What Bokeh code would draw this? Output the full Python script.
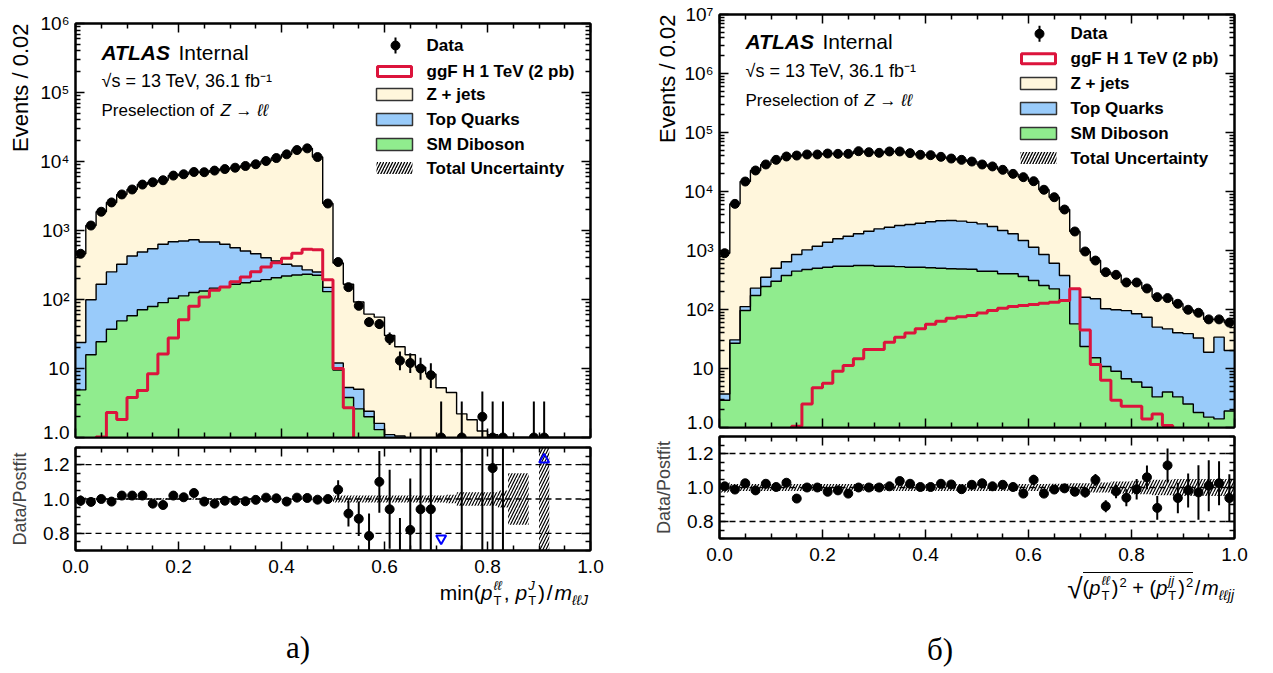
import numpy as np
from bokeh.plotting import figure
from bokeh.models import Label, Range1d, FixedTicker, LinearAxis, LogAxis, CustomJSTickFormatter, Span, Title, Div
from bokeh.layouts import row, column
from bokeh.embed import file_html
from bokeh.resources import INLINE

nan = float("nan")

# ---------------- data: bins of width 0.02 on [0, 1] ----------------
bin_edges = [round(0.02 * k, 2) for k in range(51)]

# panel a) : min(pT_ll, pT_J)/m_llJ
data_a = [460, 1180, 1870, 2550, 3330, 3930, 4630, 5000, 5350, 6250, 6530, 7050, 7000, 7380, 7770, 8130,
          8610, 9120, 10160, 11220, 12700, 14660, 15500, 11600, 2460, 349, 151, 81, 47, 44, 27, 13, 12, 10, 8,
          1, 0, 1, 0, 2, 1, 1, 0, 0, 1, 1, 0, 0, 0, 0]
zjets_a = [436, 1081, 1704, 2299, 3006, 3503, 4142, 4455, 4719, 5563, 5827, 6315, 6320, 6700, 7139, 7567,
           8106, 8660, 9757, 10859, 12376, 14354, 15231, 11350, 2310, 326, 161, 87, 59, 54, 29, 19.6, 14.9,
           9.8, 7.9, 5.0, 4.3, 2.1, 1.76, 1.24, 1.1, 0.9, 0.7, 0.5, 0.3, 0.2, 0.15, 0.1, 0.08, 0.05]
top_a = [18.9, 83.2, 141.6, 214, 275, 369, 417, 466, 541, 583, 590, 609, 547, 534, 479, 397, 329, 276, 209,
         154, 105, 79, 37, 25, 20, 2.5, 1.5, 2.4, 0.4, 0.3, 0.3, 0.45, 0.5, 0.3, 0.2, 0.1, 0.1, 0.05, 0.05,
         0, 0, 0, 0, 0, 0, 0, 0, 0, 0, 0]
diboson_a = [4.9, 15.8, 24.4, 37, 49, 58, 71, 79, 90, 104, 113, 126, 133, 146, 152, 166, 175, 184, 194, 207,
             219, 227, 232, 225, 130, 9.5, 3.8, 2.6, 2.0, 1.3, 0.8, 0.6, 0.4, 0.3, 0.2, 0.15, 0.1, 0.05, 0,
             0, 0, 0, 0, 0, 0, 0, 0, 0, 0, 0]
ggf_a = [0, 0, 1.02, 2.3, 1.82, 3.8, 4.8, 8.4, 16.2, 27.6, 50.7, 80, 109, 136, 152, 181, 212, 253, 296, 341,
         395, 467, 533, 525, 194, 10, 2.7, 0, 0, 0, 0, 0, 0, 0, 0, 0, 0, 0, 0, 0, 0, 0, 0, 0, 0, 0, 0, 0, 0, 0]
ratio_a = [0.99, 0.983, 1.0, 0.985, 1.02, 1.02, 1.02, 0.973, 0.965, 1.02, 1.01, 1.035, 0.985, 0.973, 0.99,
           0.99, 0.987, 0.995, 1.008, 1.004, 0.985, 1.008, 1.006, 0.996, 1.0, 1.054, 0.915, 0.885, 0.785, 1.10,
           0.94, 0.65, 0.82, 0.94, 0.94, nan, nan, 0.45, nan, 1.5, 1.18, 0.6, nan, nan, nan, nan, nan, nan,
           nan, nan]
ratio_err_a = [0.03, 0.02, 0.02, 0.02, 0.015, 0.015, 0.015, 0.015, 0.015, 0.015, 0.015, 0.015, 0.015, 0.015,
               0.015, 0.015, 0.012, 0.012, 0.012, 0.012, 0.012, 0.01, 0.01, 0.01, 0.02, 0.055, 0.075, 0.1,
               0.13, 0.18, 0.23, 0.24, 0.3, 0.45, 0.5, nan, nan, 1.0, nan, 1.0, 1.0, 1.0, nan, nan, nan, nan,
               nan, nan, nan, nan]
unc_a = [0.01, 0.006, 0.005, 0.005, 0.004, 0.004, 0.004, 0.004, 0.004, 0.004, 0.004, 0.004, 0.004, 0.004,
         0.004, 0.004, 0.004, 0.004, 0.004, 0.004, 0.004, 0.004, 0.004, 0.004, 0.006, 0.02, 0.02, 0.02, 0.02,
         0.02, 0.02, 0.02, 0.02, 0.02, 0.02, 0.02, 0.025, 0.04, 0.04, 0.04, 0.04, 0.05, 0.15, 0.15, nan, 0.35,
         nan, nan, nan, nan]
arrow_up_a = [45]   # bin index of off-scale (above) ratio point
arrow_dn_a = [35]   # bin index of off-scale (below) ratio point

# panel b) : sqrt(pT_ll^2 + pT_jj^2)/m_lljj
data_b = [900, 6170, 14760, 22700, 28700, 34400, 39200, 40700, 42400, 42400, 44000, 43500, 43500, 48200,
          46300, 45200, 47700, 47700, 44700, 41900, 41300, 38700, 36200, 34400, 32200, 28700, 26600, 23300,
          19900, 17500, 14950, 10700, 8000, 4950, 2100, 962, 676, 429, 387, 287, 287, 227, 162, 156, 125, 99,
          88, 68, 68, 60]
zjets_b = [896, 6139, 14648, 22470, 28347, 33899, 38557, 39845, 41376, 41217, 42617, 41922, 41751, 46281,
           44175, 42870, 45220, 45050, 41943, 39000, 38235, 35513, 32975, 31260, 29190, 25870, 24050, 21120,
           17980, 16024, 13812, 9845, 7391, 4573, 1876, 800, 524, 326, 288, 191, 202, 153, 112, 109, 85, 60,
           55, 49, 34, 40]
top_b = [0.8, 3.8, 16, 57, 108, 199, 266, 408, 548, 682, 862, 1036, 1207, 1362, 1568, 1788, 1938, 2118, 2236,
         2379, 2555, 2686, 2735, 2664, 2521, 2384, 2104, 1777, 1517, 1114, 828, 600, 385, 235, 167, 138, 137,
         92, 90, 89, 79, 69, 47, 43, 37, 36.5, 31, 17.4, 32.6, 18.3]
diboson_b = [2.9, 26.8, 96, 173, 245, 302, 377, 447, 476, 501, 521, 542, 542, 557, 557, 542, 542, 532, 521,
             521, 510, 501, 490, 485, 480, 446, 446, 403, 403, 362, 310, 255, 224, 142, 57, 23.6, 15.2, 10.8,
             9.0, 6.7, 5.9, 4.8, 3.3, 4.0, 3.3, 2.5, 1.8, 1.5, 1.4, 1.9]
ggf_b = [0, 0, 0, 0, 0, 0, 0, 1.05, 2.5, 4.7, 5.6, 9.0, 11.2, 14.6, 21, 21, 27.9, 34, 40, 47, 56, 63, 71, 75,
         79, 87, 96, 105, 112, 117, 122, 128, 133, 142, 224, 45, 11.7, 6.3, 2.9, 2.3, 2.3, 1.4, 1.7, 1.08, 0, 0,
         0, 0, 0, 0]
ratio_b = [1.007, 0.988, 1.025, 0.983, 1.022, 1.003, 1.028, 0.935, 1.0, 1.0, 0.975, 0.983, 0.964, 1.0, 1.0,
           1.0, 1.007, 1.038, 1.022, 1.003, 1.003, 1.022, 1.018, 0.99, 1.016, 1.025, 1.007, 1.016, 1.003, 0.964,
           1.045, 0.964, 0.988, 0.995, 0.975, 0.971, 1.045, 0.89, 0.977, 0.94, 0.99, 1.06, 0.88, 1.13, 0.938,
           0.983, 0.971, 1.01, 1.025, 0.938]
ratio_err_b = [0.015, 0.01, 0.008, 0.006, 0.006, 0.005, 0.005, 0.005, 0.005, 0.005, 0.005, 0.005, 0.005,
               0.005, 0.005, 0.005, 0.005, 0.005, 0.005, 0.005, 0.005, 0.005, 0.005, 0.006, 0.006, 0.006, 0.007,
               0.007, 0.008, 0.02, 0.03, 0.02, 0.02, 0.025, 0.025, 0.03, 0.035, 0.035, 0.04, 0.05, 0.06, 0.07,
               0.07, 0.1, 0.09, 0.1, 0.16, 0.15, 0.13, 0.14]
unc_b = [0.03, 0.02, 0.02, 0.02, 0.02, 0.02, 0.02, 0.02, 0.02, 0.02, 0.02, 0.02, 0.02, 0.02, 0.02, 0.02, 0.02,
         0.02, 0.02, 0.02, 0.02, 0.02, 0.02, 0.02, 0.02, 0.02, 0.02, 0.02, 0.02, 0.02, 0.02, 0.02, 0.022, 0.022,
         0.025, 0.025, 0.03, 0.03, 0.035, 0.035, 0.04, 0.04, 0.045, 0.045, 0.05, 0.05, 0.05, 0.05, 0.05, 0.05]

legend_labels = ["Data", "ggF H 1 TeV (2 pb)", "Z + jets", "Top Quarks", "SM Diboson", "Total Uncertainty"]
x_ticks = [0.0, 0.2, 0.4, 0.6, 0.8, 1.0]
x_minor = [0.05, 0.1, 0.15, 0.25, 0.3, 0.35, 0.45, 0.5, 0.55, 0.65, 0.7, 0.75, 0.85, 0.9, 0.95]
r_ticks = [0.8, 1.0, 1.2]
r_minor = [0.7, 0.75, 0.85, 0.9, 0.95, 1.05, 1.1, 1.15, 1.25, 1.3]

# ---------------- style ----------------
FONT = "Liberation Sans"
ZJ_COL = "#FFF6DC"
TOP_COL = "#99CBFA"
DIB_COL = "#90EC8E"
SIG_COL = "#DC143C"
FW = 515
FLOOR = 1e-3


def add_label(p, x, y, text, fs, style="normal", align="left", baseline="middle", font=FONT):
    p.add_layout(Label(x=x, y=y, text=text, text_font=font, text_font_size=f"{fs}px",
                       text_font_style=style, text_align=align, text_baseline=baseline,
                       text_color="black"))


def style_axis(ax, major, minor, labels, fmt, maj_len, min_len):
    ax.ticker = FixedTicker(ticks=major, minor_ticks=minor)
    ax.major_tick_in = maj_len
    ax.major_tick_out = 0
    ax.minor_tick_in = min_len
    ax.minor_tick_out = 0
    ax.axis_line_width = 2
    ax.major_tick_line_width = 1.5
    ax.minor_tick_line_width = 1.5
    if labels:
        ax.formatter = CustomJSTickFormatter(code=fmt)
        ax.major_label_text_font = FONT
        ax.major_label_text_font_size = "19px"
        ax.major_label_text_color = "black"
    else:
        ax.formatter = CustomJSTickFormatter(code="return '';")
        ax.major_label_text_font_size = "0px"
        ax.major_label_standoff = 0


LOG_FMT = """
const e = Math.round(Math.log10(tick));
if (e === 0) { return "1.0"; }
if (e === 1) { return "10"; }
const s = {2: "\u00b2", 3: "\u00b3", 4: "\u2074", 5: "\u2075", 6: "\u2076", 7: "\u2077"};
return "10" + s[e];
"""
FIX1 = "return tick.toFixed(1);"


def base_fig(fh, y_range, log, mbl, mbt, mbb, mbr):
    kw = dict(frame_width=FW, frame_height=fh, x_range=Range1d(0, 1), y_range=y_range,
              output_backend="svg", toolbar_location=None, min_border_left=mbl, min_border_right=mbr,
              min_border_top=mbt, min_border_bottom=mbb)
    if log:
        kw["y_axis_type"] = "log"
    p = figure(**kw)
    p.xgrid.visible = False
    p.ygrid.visible = False
    p.outline_line_color = "black"
    p.outline_line_width = 2
    p.background_fill_color = "white"
    p.border_fill_color = "white"
    return p


def make_top(data, zj, top, dib, sig, fh, ndec, mbl, mbt, mbr, rows, trow, ev_standoff):
    fx = lambda px: px / FW
    fy = lambda py: 10 ** (ndec * (1.0 - py / fh))
    p = base_fig(fh, Range1d(1, 10 ** ndec), True, mbl, mbt, 5, mbr)
    y_major = [10.0 ** k for k in range(ndec + 1)]
    y_minor = [m * 10.0 ** k for k in range(ndec) for m in range(2, 10)]
    style_axis(p.xaxis[0], x_ticks, x_minor, False, None, 9, 5)
    style_axis(p.yaxis[0], y_major, y_minor, True, LOG_FMT, 9, 5)
    p.yaxis[0].major_label_standoff = 6
    ax_t = LinearAxis()
    style_axis(ax_t, x_ticks, x_minor, False, None, 9, 5)
    p.add_layout(ax_t, "above")
    ax_r = LogAxis()
    style_axis(ax_r, y_major, y_minor, False, None, 9, 5)
    p.add_layout(ax_r, "right")
    p.add_layout(Title(text="Events / 0.02", align="right", text_font=FONT, text_font_size="22px",
                       text_font_style="normal", text_color="black", standoff=ev_standoff), "left")

    edges = bin_edges
    c1 = np.array(dib, float)
    c2 = c1 + np.array(top, float)
    c3 = c2 + np.array(zj, float)
    for c, col in ((c3, ZJ_COL), (c2, TOP_COL), (c1, DIB_COL)):
        yy = list(np.maximum(c, FLOOR)) + [max(c[-1], FLOOR)]
        p.varea_step(x=edges, y1=[FLOOR] * len(edges), y2=yy, step_mode="after", fill_color=col)
    for c in (c3, c2, c1):
        yy = list(np.maximum(c, FLOOR)) + [max(c[-1], FLOOR)]
        p.step(x=edges, y=yy, mode="after", line_color="black", line_width=1.4)
    s = np.array(sig, float)
    yy = list(np.maximum(s, FLOOR)) + [max(s[-1], FLOOR)]
    p.step(x=edges, y=yy, mode="after", line_color=SIG_COL, line_width=3)

    n = np.array(data, float)
    cen = (np.array(edges[:-1]) + np.array(edges[1:])) / 2
    m = n > 0
    nn = n[m]
    hi = nn + np.sqrt(nn + 0.75) + 1.0
    lo = nn * (1 - 1 / (9 * nn) - 1 / (3 * np.sqrt(nn))) ** 3
    lo = np.maximum(lo, FLOOR)
    p.segment(x0=cen[m], y0=lo, x1=cen[m], y1=hi, line_color="black", line_width=2)
    p.scatter(x=cen[m], y=nn, size=9, color="black")

    # legend
    bx0, bx1, mkx, tx = 301, 337, 320, 351
    r = rows
    p.segment(x0=[fx(mkx)], y0=[fy(r[0] + 8)], x1=[fx(mkx)], y1=[fy(r[0] - 8)], line_color="black",
              line_width=2)
    p.scatter(x=[fx(mkx)], y=[fy(r[0])], size=9, color="black")
    p.quad(left=[fx(bx0 + 1)], right=[fx(bx1 - 1)], top=[fy(r[1] - 5)], bottom=[fy(r[1] + 5)],
           fill_color="white", line_color=SIG_COL, line_width=3)
    for k, col in ((2, ZJ_COL), (3, TOP_COL), (4, DIB_COL)):
        p.quad(left=[fx(bx0)], right=[fx(bx1)], top=[fy(r[k] - 6)], bottom=[fy(r[k] + 6)],
               fill_color=col, line_color="#333333", line_width=1.5)
    p.quad(left=[fx(bx0)], right=[fx(bx1)], top=[fy(r[5] - 6)], bottom=[fy(r[5] + 6)],
           fill_alpha=0, line_alpha=0, hatch_pattern="/", hatch_color="black", hatch_scale=6,
           hatch_weight=1.3)
    for k, t in enumerate(legend_labels):
        add_label(p, fx(tx), fy(r[k]), t, 17, "bold")

    # ATLAS label block
    tx0 = 26
    add_label(p, fx(tx0), fy(trow[0]), "ATLAS", 21, "bold italic")
    add_label(p, fx(tx0 + 77), fy(trow[0]), "Internal", 21)
    add_label(p, fx(tx0), fy(trow[1]), "\u221As = 13 TeV,  36.1 fb\u207b\u00b9", 18)
    add_label(p, fx(tx0), fy(trow[2]), "Preselection of", 17)
    add_label(p, fx(tx0 + 119), fy(trow[2]), "Z \u2192 \u2113\u2113", 17, "italic")
    return p


def make_ratio(ratio, err, unc, ups, dns, fh, mbl, mbt, mbb, mbr):
    fy = lambda py: 1.3 - 0.6 * py / fh
    p = base_fig(fh, Range1d(0.7, 1.3), False, mbl, mbt, mbb, mbr)
    style_axis(p.xaxis[0], x_ticks, x_minor, True, FIX1, 9, 5)
    p.xaxis[0].major_label_standoff = 9
    style_axis(p.yaxis[0], r_ticks, r_minor, True, FIX1, 9, 5)
    p.yaxis[0].major_label_standoff = 6
    p.yaxis[0].axis_label = "Data/Postfit"
    p.yaxis[0].axis_label_text_font = FONT
    p.yaxis[0].axis_label_text_font_size = "18px"
    p.yaxis[0].axis_label_text_font_style = "normal"
    p.yaxis[0].axis_label_standoff = 10
    ax_t = LinearAxis()
    style_axis(ax_t, x_ticks, x_minor, False, None, 9, 5)
    p.add_layout(ax_t, "above")
    ax_r = LinearAxis()
    style_axis(ax_r, r_ticks, r_minor, False, None, 9, 5)
    p.add_layout(ax_r, "right")

    for v in r_ticks:
        p.add_layout(Span(location=v, dimension="width", line_color="black", line_width=1.3,
                          line_dash="6 4"))
    edges = np.array(bin_edges)
    cen = (edges[:-1] + edges[1:]) / 2
    u = np.array(unc, float)
    mu = ~np.isnan(u)
    p.quad(left=edges[:-1][mu], right=edges[1:][mu], bottom=1 - u[mu], top=1 + u[mu], fill_alpha=0,
           line_alpha=0, hatch_pattern="/", hatch_color="black", hatch_scale=6, hatch_weight=1.2)
    rv = np.array(ratio, float)
    ev = np.array(err, float)
    me = ~np.isnan(rv) & ~np.isnan(ev)
    p.segment(x0=cen[me], y0=rv[me] - ev[me], x1=cen[me], y1=rv[me] + ev[me], line_color="black",
              line_width=2)
    mr = ~np.isnan(rv)
    p.scatter(x=cen[mr], y=rv[mr], size=9, color="black")
    if ups:
        p.scatter(x=[cen[i] for i in ups], y=[fy(12)] * len(ups), marker="triangle", size=10,
                  fill_alpha=0, line_color="blue", line_width=2)
    if dns:
        p.scatter(x=[cen[i] for i in dns], y=[fy(fh - 12)] * len(dns), marker="inverted_triangle", size=10,
                  fill_alpha=0, line_color="blue", line_width=2)
    return p


def stack(sup, sub):
    return ('<span style="display:inline-block;vertical-align:-5px;font-size:13px;line-height:15px;'
            'text-align:left;margin-left:1px;margin-right:2px;"><i>' + sup + '</i><br>' + sub + '</span>')


SANS = "font-family:'Liberation Sans',Arial,sans-serif;color:black;"
SERIF = "font-family:'Liberation Serif','Times New Roman',serif;color:black;"

title_a_html = ('min(<i>p</i>' + stack('\u2113\u2113', 'T') + ', <i>p</i>' + stack('J', 'T') +
                ')&#8202;/&#8202;<i>m</i><span style="font-size:14px;vertical-align:-5px;"><i>\u2113\u2113J</i></span>')
title_b_html = ('<span style="font-size:28px;vertical-align:-3px;">\u221A</span>'
                '<span style="border-top:1.5px solid black;padding-top:4px;">(<i>p</i>' + stack('\u2113\u2113', 'T') +
                ')<span style="font-size:13px;vertical-align:8px;margin-left:1px;">2</span> + (<i>p</i>' +
                stack('jj', 'T') +
                ')<span style="font-size:13px;vertical-align:8px;margin-left:1px;">2</span></span>&#8202;/&#8202;<i>m</i>'
                '<span style="font-size:14px;vertical-align:-5px;"><i>\u2113\u2113jj</i></span>')


def bottom_div(width, height, title_html, right, t_top, fs, caption, cap_left, cap_top):
    html = ('<div style="position:relative;width:%dpx;height:%dpx;%s">' % (width, height, SANS) +
            '<div style="position:absolute;right:%dpx;top:%dpx;font-size:%dpx;line-height:24px;'
            'white-space:nowrap;">%s</div>' % (right, t_top, fs, title_html) +
            '<div style="position:absolute;left:%dpx;width:60px;text-align:center;top:%dpx;%s'
            'font-size:31px;line-height:36px;">%s</div></div>' % (cap_left - 30, cap_top, SERIF, caption))
    return Div(text=html, width=width, height=height, margin=(0, 0, 0, 0))


top_a_fig = make_top(data_a, zjets_a, top_a, diboson_a, ggf_a, 414, 6, 75, 23, 60,
                     [22, 48, 71, 96, 121, 144.5], [28.5, 57.5, 86.5], 10)
top_b_fig = make_top(data_b, zjets_b, top_b, diboson_b, ggf_b, 413, 7, 67, 14, 20,
                     [19.3, 44.3, 69, 94, 119, 143.5], [27, 56.5, 85.5], 4)
rat_a_fig = make_ratio(ratio_a, ratio_err_a, unc_a, arrow_up_a, arrow_dn_a, 103, 75, 5, 30, 60)
rat_b_fig = make_ratio(ratio_b, ratio_err_b, unc_b, [], [], 102, 67, 4, 30, 20)
div_a = bottom_div(650, 86, title_a_html, 62, -2, 21, "a)", 298, 50)
div_b = bottom_div(602, 94, title_b_html, 18, 3, 20, "\u0431)", 940 - 650, 64)

layout = row(column(top_a_fig, rat_a_fig, div_a), column(top_b_fig, rat_b_fig, div_b))
open("out.html", "w").write(file_html(layout, INLINE))
